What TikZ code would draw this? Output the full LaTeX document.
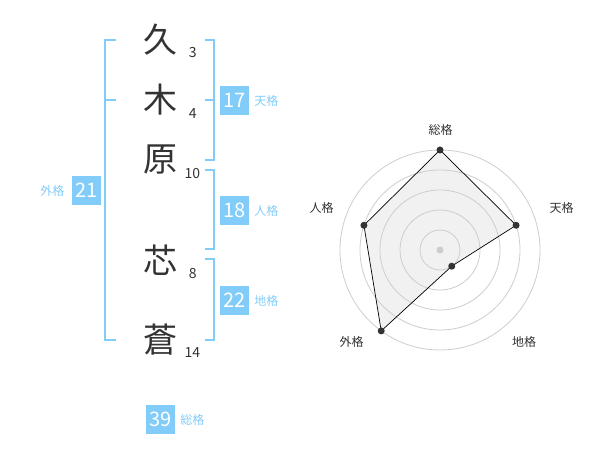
\documentclass[tikz,border=0pt]{standalone}
\usepackage{fontspec}
\setmainfont{Noto Sans CJK JP}
\usepackage{tikz}
\usetikzlibrary{positioning}
\definecolor{KakuBlue}{RGB}{130,204,250}
\definecolor{InkGray}{RGB}{51,51,51}
\definecolor{RingGray}{RGB}{205,205,205}
\definecolor{AreaGray}{RGB}{232,232,232}
\tikzset{
        kanji/.style={font=\fontsize{34}{34}\selectfont, text=InkGray, inner sep=0pt},
        strokes/.style={font=\fontsize{14}{14}\selectfont, text=InkGray, inner sep=0pt},
        kakubox/.style={fill=KakuBlue, text=white, minimum size=29pt, inner sep=0pt,
            font=\fontsize{20}{20}\selectfont},
        kakulabel/.style={text=KakuBlue, font=\fontsize{12}{12}\selectfont, inner sep=0pt},
        bracket/.style={draw=KakuBlue, line width=2pt},
        ring/.style={draw=RingGray, line width=0.8pt},
        axislabel/.style={text=InkGray, font=\fontsize{12}{12}\selectfont, inner sep=0pt},
        dot/.style={circle, fill=InkGray, inner sep=0pt, minimum size=7pt},
    }

\begin{document}
\begin{tikzpicture}[x = 1pt, y = -1pt]
                \useasboundingbox (0,0) rectangle (600,470);
                % name and stroke counts
                \node[kanji] (k1) at (160,40) {久};
                \node[kanji] (k2) at (160,100) {木};
                \node[kanji] (k3) at (160,160) {原};
                \node[kanji] (k4) at (160,260) {芯};
                \node[kanji] (k5) at (160,340) {蒼};
                \node[strokes] (s1) at (192.7,52.7) {3};
                \node[strokes] (s2) at (192.7,113.3) {4};
                \node[strokes] (s3) at (192.3,173.3) {10};
                \node[strokes] (s4) at (192.7,273.3) {8};
                \node[strokes] (s5) at (192.3,352.7) {14};
                % brackets
                \draw[bracket] (116,40) -- (105,40) -- (105,340) -- (116,340);
                \draw[bracket] (105,100) -- (116,100);
                \draw[bracket] (205,40) -- (214,40) -- (214,160) -- (205,160);
                \draw[bracket] (214,100) -- (205,100);
                \draw[bracket] (205,170) -- (214,170) -- (214,249) -- (205,249);
                \draw[bracket] (205,259) -- (214,259) -- (214,340) -- (205,340);
                % scores
                \node[kakubox] (ten) at (234.5,100.5) {17};
                \node[kakubox] (jin) at (234.5,210.5) {18};
                \node[kakubox] (chi) at (234.5,300.5) {22};
                \node[kakubox] (gai) at (86.3,190.5) {21};
                \node[kakubox] (sou) at (160.5,419.5) {39};
                \node[kakulabel, right=5pt of ten] {天格};
                \node[kakulabel, right=5pt of jin] {人格};
                \node[kakulabel, right=5pt of chi] {地格};
                \node[kakulabel, left=7pt of gai] {外格};
                \node[kakulabel, right=5pt of sou] {総格};
                % radar chart
                \begin{scope}[shift={(440,250)}]
                    \coordinate (p1) at (-90:100);
                    \coordinate (p2) at (-18:80);
                    \coordinate (p3) at (54:20);
                    \coordinate (p4) at (126:100);
                    \coordinate (p5) at (198:80);
                    \fill[AreaGray, fill opacity=0.6]
                        (p1) -- (p2) -- (p3) -- (p4) -- (p5) -- cycle;
                    \foreach \r in {20,40,...,100}
                        \draw[ring] (0,0) circle (\r);
                    \fill[RingGray] (0,0) circle (3.5);
                    \draw[black, line width=0.7pt]
                        (p1) -- (p2) -- (p3) -- (p4) -- (p5) -- cycle;
                    \foreach \p in {p1,p2,p3,p4,p5}
                        \node[dot] at (\p) {};
                \end{scope}
                \node[axislabel] (l1) at (440.7,130) {総格};
                \node[axislabel] (l2) at (561.7,208) {天格};
                \node[axislabel] (l3) at (524,341.7) {地格};
                \node[axislabel] (l4) at (351.7,341.7) {外格};
                \node[axislabel] (l5) at (321.7,208) {人格};
            \end{tikzpicture}
\end{document}
